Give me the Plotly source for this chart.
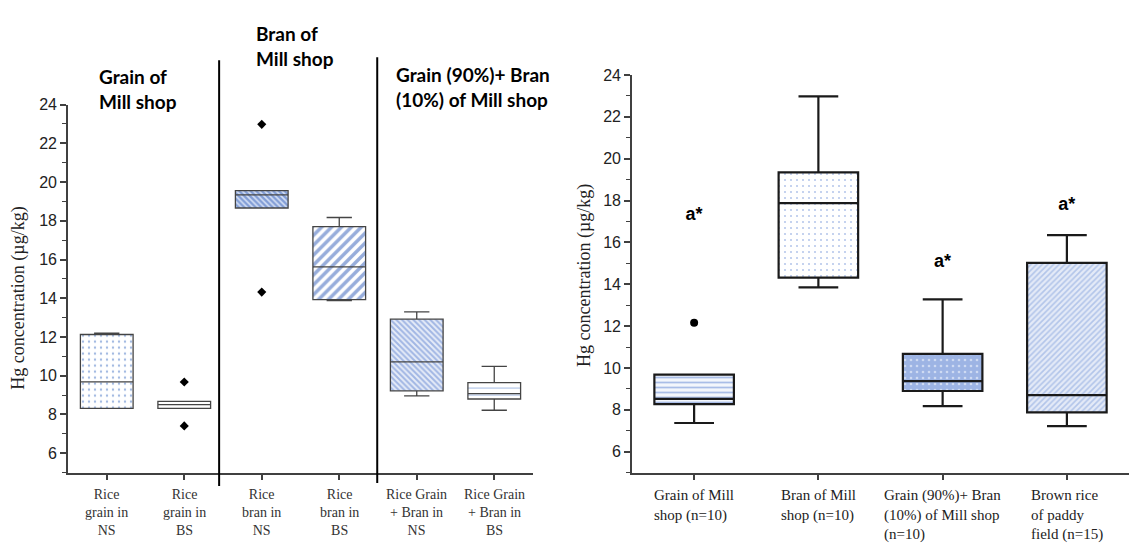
import plotly.graph_objects as go

W, H = 1132, 547

# ---------------- data: left panel ----------------
left_cats = ["Rice<br>grain in<br>NS", "Rice<br>grain in<br>BS", "Rice<br>bran in<br>NS",
             "Rice<br>bran in<br>BS", "Rice Grain<br>+ Bran in<br>NS", "Rice Grain<br>+ Bran in<br>BS"]
left_q1 = [8.32, 8.32, 18.66, 13.93, 9.22, 8.80]
left_median = [9.68, 8.51, 19.34, 15.62, 10.72, 9.08]
left_q3 = [12.13, 8.68, 19.56, 17.70, 12.92, 9.65]
left_lower = [8.32, 8.32, 18.66, 13.88, 8.96, 8.22]
left_upper = [12.20, 8.68, 19.56, 18.17, 13.30, 10.48]
left_out_cat = [left_cats[1], left_cats[1], left_cats[2], left_cats[2]]
left_out_val = [9.68, 7.41, 22.98, 14.32]
left_titles = ["Grain of<br>Mill shop", "Bran of<br>Mill shop", "Grain (90%)+ Bran<br>(10%) of Mill shop"]

# ---------------- data: right panel ----------------
right_cats = ["Grain of Mill<br>shop (n=10)", "Bran of Mill<br>shop (n=10)",
              "Grain (90%)+ Bran<br>(10%) of Mill shop<br>(n=10)", "Brown rice<br>of paddy<br>field (n=15)"]
right_q1 = [8.27, 14.32, 8.90, 7.88]
right_median = [8.52, 17.88, 9.37, 8.70]
right_q3 = [9.68, 19.35, 10.67, 15.02]
right_lower = [7.37, 13.85, 8.18, 7.22]
right_upper = [9.68, 22.98, 13.28, 16.35]
right_out_cat = [right_cats[0]]
right_out_val = [12.16]
right_letters = ["a*", "b*", "a*", "a*"]
right_letter_y = [17.3, 24.3, 15.05, 17.75]

ytitle = "Hg concentration (µg/kg)"
BLUE = "#4472C4"
SERIF = "Liberation Serif"
SANS = "Liberation Sans"


def px(x):
    return x / W


def py(y):
    return 1 - y / H


fig = go.Figure()

# ---- left panel: patterned boxes (bars) ----
fig.add_trace(go.Bar(
    x=left_cats, base=left_q1, y=[b - a for a, b in zip(left_q1, left_q3)],
    width=0.68, xaxis="x", yaxis="y", hoverinfo="skip", showlegend=False,
    marker=dict(color="white", line=dict(width=0),
                pattern=dict(shape=[".", "", "\\", "/", "\\", "-"],
                             fgcolor=[BLUE, BLUE, "#2F5BB7", "#2F5BB7", "#5B80CF", BLUE],
                             bgcolor=["white", "white", "#D5E0F4", "white", "#E6ECF8", "white"],
                             size=[6, 6, 4, 7, 4, 7],
                             solidity=[0.12, 0.1, 0.6, 0.5, 0.5, 0.14],
                             fillmode="overlay")),
))
fig.add_trace(go.Box(
    x=left_cats, q1=left_q1, median=left_median, q3=left_q3,
    lowerfence=left_lower, upperfence=left_upper, width=0.68, whiskerwidth=0.48,
    fillcolor="rgba(0,0,0,0)", line=dict(color="#444444", width=1.3),
    boxpoints=False, xaxis="x", yaxis="y", hoverinfo="skip", showlegend=False,
))
fig.add_trace(go.Scatter(
    x=left_out_cat, y=left_out_val, mode="markers", xaxis="x", yaxis="y",
    marker=dict(symbol="diamond", size=7, color="black"), hoverinfo="skip", showlegend=False,
))

# ---- right panel ----
fig.add_trace(go.Bar(
    x=right_cats, base=right_q1, y=[b - a for a, b in zip(right_q1, right_q3)],
    width=0.64, xaxis="x2", yaxis="y2", hoverinfo="skip", showlegend=False,
    marker=dict(color="white", line=dict(width=0),
                pattern=dict(shape=["-", ".", ".", "/"],
                             fgcolor=["#5F84D2", "#6E8FD6", "white", "#7F9FDC"],
                             bgcolor=["#F3F6FC", "white", "#9DB4E4", "#E4EAF7"],
                             size=[5, 6, 6, 4],
                             solidity=[0.35, 0.1, 0.15, 0.4],
                             fillmode="overlay")),
))
fig.add_trace(go.Box(
    x=right_cats, q1=right_q1, median=right_median, q3=right_q3,
    lowerfence=right_lower, upperfence=right_upper, width=0.64, whiskerwidth=0.5,
    fillcolor="rgba(0,0,0,0)", line=dict(color="#1a1a1a", width=2.2),
    boxpoints=False, xaxis="x2", yaxis="y2", hoverinfo="skip", showlegend=False,
))
fig.add_trace(go.Scatter(
    x=right_out_cat, y=right_out_val, mode="markers", xaxis="x2", yaxis="y2",
    marker=dict(symbol="circle", size=8, color="black"), hoverinfo="skip", showlegend=False,
))
fig.add_trace(go.Scatter(
    x=right_cats, y=right_letter_y, mode="text", text=right_letters, xaxis="x2", yaxis="y2",
    textfont=dict(family=SANS, size=18, color="black"),
    texttemplate="<b>%{text}</b>", hoverinfo="skip", showlegend=False,
))

tickfont = dict(family=SANS, size=16, color="#222")
catfont_l = dict(family=SERIF, size=14, color="#333")
catfont_r = dict(family=SERIF, size=15, color="#222")
axline = dict(showline=True, linecolor="#404040", linewidth=1.6, showgrid=False, zeroline=False,
              ticks="outside", ticklen=6, tickwidth=1.6, tickcolor="#404040")

fig.update_layout(
    width=W, height=H, margin=dict(l=0, r=0, t=0, b=0),
    paper_bgcolor="white", plot_bgcolor="white", showlegend=False,
    boxmode="overlay", barmode="overlay",
    xaxis=dict(domain=[px(68), px(533)], anchor="y", range=[-0.5, 5.5], showticklabels=False,
               categoryorder="array", categoryarray=left_cats, **axline),
    yaxis=dict(domain=[py(471.5), py(98)], anchor="x", range=[5, 24], tickvals=list(range(6, 25, 2)),
               tickfont=tickfont, minor=dict(ticks="outside", dtick=1, tick0=0, ticklen=4,
                                             tickcolor="#404040", tickwidth=1.2),
               **axline),
    xaxis2=dict(domain=[px(632), px(1129)], anchor="y2", range=[-0.5, 3.5],
                showticklabels=False, categoryorder="array", categoryarray=right_cats, **axline),
    yaxis2=dict(domain=[py(471.5), py(68)], anchor="x2", range=[5, 24], tickvals=list(range(6, 25, 2)),
                tickfont=tickfont, minor=dict(ticks="outside", dtick=1, tick0=0, ticklen=4,
                                              tickcolor="#404040", tickwidth=1.2),
                **axline),
)

# separators in left panel
for xs, ytop, ybot in [(1.45, 53, 485), (3.49, 50, 482)]:
    fig.add_shape(type="line", xref="x", yref="paper", x0=xs, x1=xs, y0=py(ybot), y1=py(ytop),
                  line=dict(color="black", width=2))

# left panel group titles
title_font = dict(family="Lato", size=19, color="black")
for txt, xl, yt in zip(left_titles, [97, 254, 394], [56, 12, 54]):
    fig.add_annotation(text="<b>" + txt + "</b>", xref="paper", yref="paper", x=px(xl), y=py(yt),
                       xanchor="left", yanchor="top", align="left", showarrow=False, font=title_font)

# left panel category labels (centered)
for c in left_cats:
    fig.add_annotation(text=c, xref="x", yref="paper", x=c, y=py(484), xanchor="center",
                       yanchor="top", align="center", showarrow=False, font=catfont_l)

# right panel category labels (left-aligned lines)
for c in right_cats:
    fig.add_annotation(text=c, xref="x2", yref="paper", x=c, y=py(484), xanchor="center",
                       yanchor="top", align="left", showarrow=False, font=catfont_r)

# y-axis titles
for xc, yc in [(19, 295), (584, 272)]:
    fig.add_annotation(text=ytitle, xref="paper", yref="paper", x=px(xc), y=py(yc), textangle=-90,
                       xanchor="center", yanchor="middle", showarrow=False,
                       font=dict(family=SERIF, size=18, color="#222"))

fig.write_html("out.html")
